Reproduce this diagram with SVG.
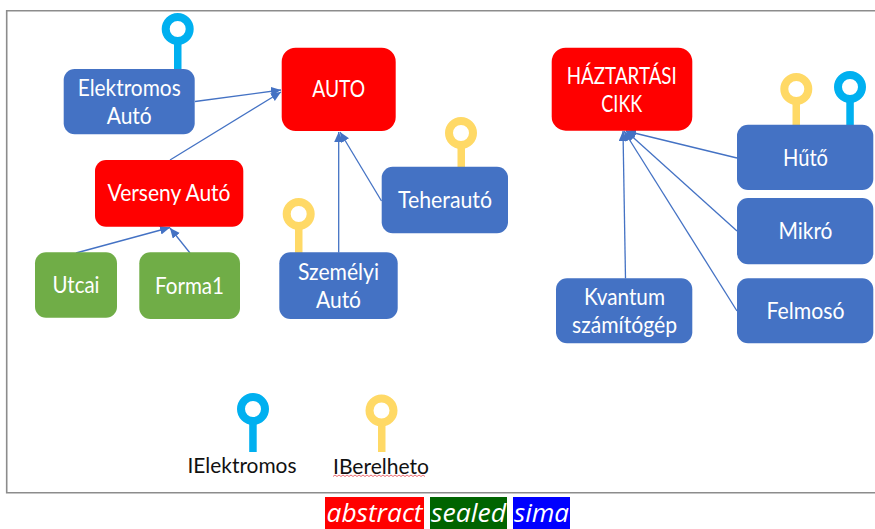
<svg xmlns="http://www.w3.org/2000/svg" width="875" height="529" viewBox="0 0 875 529">
<style>
text{font-family:"Lato","Open Sans","Liberation Sans",sans-serif;font-size:22.5px;text-anchor:middle;fill:#fff}
.blue{fill:#4472c4}.red{fill:#ff0000}.green{fill:#70ad47}
.lc{fill:none;stroke:#00b0f0;stroke-width:8}.ly{fill:none;stroke:#ffd966;stroke-width:8}
.sc{fill:#00b0f0}.sy{fill:#ffd966}
.edge{stroke:#4472c4;stroke-width:1.3;fill:none;marker-end:url(#arr)}
text.tag{font-family:"Open Sans","Liberation Sans",sans-serif;font-style:italic;font-size:25px}
text.lbl{fill:#111;font-size:21px}
</style>
<defs>
<marker id="arr" markerUnits="userSpaceOnUse" markerWidth="11" markerHeight="10" refX="10" refY="4.5" orient="auto"><path d="M0 0L10 4.5L0 9Z" fill="#4472c4"/></marker>
</defs>
<rect width="875" height="529" fill="#fff"/>
<path d="M875 10.7H6.7V492.7H875" fill="none" stroke="#8c8c8c" stroke-width="1.6"/>
<g id="lollipops">
<rect class="sc" x="174" y="40" width="7.5" height="30"/><circle class="lc" cx="177.7" cy="29" r="12"/>
<rect class="sy" x="295" y="224" width="7.5" height="29"/><circle class="ly" cx="298.7" cy="214" r="12"/>
<rect class="sy" x="457.5" y="143" width="7.5" height="25"/><circle class="ly" cx="461" cy="133" r="12"/>
<rect class="sy" x="792.5" y="99" width="7.5" height="26"/><circle class="ly" cx="796.3" cy="89" r="12"/>
<rect class="sc" x="846.3" y="97" width="7.5" height="28"/><circle class="lc" cx="850" cy="87" r="12"/>
<rect class="sc" x="249.2" y="419" width="7.5" height="33"/><circle class="lc" cx="253" cy="409" r="12"/>
<rect class="sy" x="378" y="420" width="7.5" height="32"/><circle class="ly" cx="381.5" cy="410.5" r="12"/>
</g>
<g id="connectors">
<path class="edge" d="M195 101.5L281 90"/>
<path class="edge" d="M170 160L281 92"/>
<path class="edge" d="M76 253L170 227.5"/>
<path class="edge" d="M190 253L170 228"/>
<path class="edge" d="M338.7 252.5V132"/>
<path class="edge" d="M381.5 201L340 132"/>
<path class="edge" d="M737 158L626 131"/>
<path class="edge" d="M737 231L626 131"/>
<path class="edge" d="M737 311L624 131"/>
<path class="edge" d="M625.5 278.5L623 131"/>
</g>
<g id="elektromos"><rect class="blue" x="63.7" y="69" width="131" height="65.3" rx="11"/><text x="129.2" y="95.5" textLength="103" lengthAdjust="spacingAndGlyphs">Elektromos</text><text x="129.2" y="123.5" textLength="45" lengthAdjust="spacingAndGlyphs">Autó</text></g>
<g id="auto"><rect class="red" x="281.7" y="47.7" width="114" height="83.3" rx="14"/><text x="338.7" y="96.5" textLength="53" lengthAdjust="spacingAndGlyphs">AUTO</text></g>
<g id="verseny"><rect class="red" x="95" y="160" width="148.3" height="66.7" rx="11"/><text x="169" y="201" textLength="123" lengthAdjust="spacingAndGlyphs">Verseny Autó</text></g>
<g id="utcai"><rect class="green" x="35" y="252.3" width="82" height="65.4" rx="11"/><text x="76" y="292.5" textLength="47" lengthAdjust="spacingAndGlyphs">Utcai</text></g>
<g id="forma1"><rect class="green" x="139.3" y="252.3" width="100.7" height="66.7" rx="11"/><text x="189.5" y="293.5" textLength="69" lengthAdjust="spacingAndGlyphs">Forma1</text></g>
<g id="szemelyi"><rect class="blue" x="279.3" y="252.3" width="118.4" height="66.7" rx="11"/><text x="338.5" y="279.5" textLength="81" lengthAdjust="spacingAndGlyphs">Személyi</text><text x="338.5" y="307.5" textLength="45" lengthAdjust="spacingAndGlyphs">Autó</text></g>
<g id="teherauto"><rect class="blue" x="381.7" y="166.7" width="126.3" height="66.6" rx="11"/><text x="445" y="207.5" textLength="94" lengthAdjust="spacingAndGlyphs">Teherautó</text></g>
<g id="haztartasi"><rect class="red" x="551.7" y="47.7" width="140.6" height="83" rx="14"/><text x="621.8" y="83.5" textLength="110" lengthAdjust="spacingAndGlyphs">HÁZTARTÁSI</text><text x="621.8" y="111.5" textLength="41" lengthAdjust="spacingAndGlyphs">CIKK</text></g>
<g id="huto"><rect class="blue" x="737" y="124.7" width="136.3" height="65.3" rx="11"/><text x="805.5" y="165.5" textLength="45" lengthAdjust="spacingAndGlyphs">Hűtő</text></g>
<g id="mikro"><rect class="blue" x="737" y="198" width="136.3" height="66.3" rx="11"/><text x="805.5" y="239" textLength="54" lengthAdjust="spacingAndGlyphs">Mikró</text></g>
<g id="felmoso"><rect class="blue" x="737" y="278.3" width="136.3" height="65" rx="11"/><text x="805.5" y="318.5" textLength="78" lengthAdjust="spacingAndGlyphs">Felmosó</text></g>
<g id="kvantum"><rect class="blue" x="556" y="278.3" width="136.3" height="65" rx="11"/><text x="624.5" y="304.5" textLength="81" lengthAdjust="spacingAndGlyphs">Kvantum</text><text x="624.5" y="332.5" textLength="105" lengthAdjust="spacingAndGlyphs">számítógép</text></g>
<g id="legend-labels">
<text class="lbl" x="242" y="472.5" textLength="109" lengthAdjust="spacingAndGlyphs">IElektromos</text>
<text class="lbl" x="381" y="473.5" textLength="96" lengthAdjust="spacingAndGlyphs">IBerelheto</text>
<path d="M333 476.5l2 -1.5l2 1.5l2 -1.5l2 1.5l2 -1.5l2 1.5l2 -1.5l2 1.5l2 -1.5l2 1.5l2 -1.5l2 1.5l2 -1.5l2 1.5l2 -1.5l2 1.5l2 -1.5l2 1.5l2 -1.5l2 1.5l2 -1.5l2 1.5l2 -1.5l2 1.5l2 -1.5l2 1.5l2 -1.5l2 1.5l2 -1.5l2 1.5l2 -1.5l2 1.5l2 -1.5l2 1.5l2 -1.5l2 1.5l2 -1.5l2 1.5l2 -1.5l2 1.5l2 -1.5l2 1.5l2 -1.5l2 1.5l2 -1.5l2 1.5" fill="none" stroke="#e8474f" stroke-width="0.8"/>
</g>
<g id="legend">
<rect x="325" y="497" width="99" height="32" fill="#ff0000"/><text class="tag" x="374.5" y="521.5" textLength="96" lengthAdjust="spacingAndGlyphs">abstract</text>
<rect x="430" y="497" width="77" height="32" fill="#006400"/><text class="tag" x="468.5" y="521.5" textLength="75" lengthAdjust="spacingAndGlyphs">sealed</text>
<rect x="513" y="497" width="57" height="32" fill="#0000ff"/><text class="tag" x="541.5" y="521.5" textLength="55" lengthAdjust="spacingAndGlyphs">sima</text>
</g>
</svg>
